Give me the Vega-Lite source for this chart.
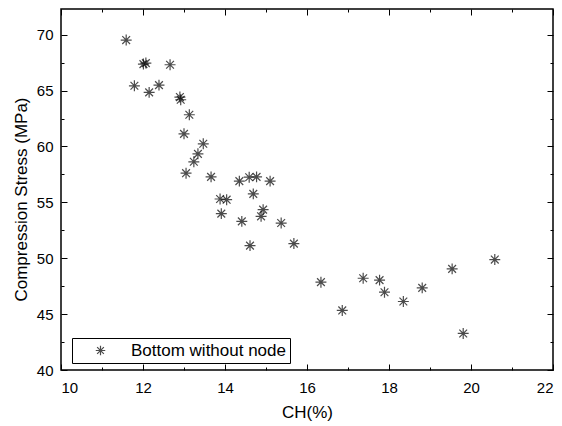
{
  "$schema": "https://vega.github.io/schema/vega-lite/v6.json",
  "width": 492,
  "height": 361,
  "autosize": "none",
  "padding": {"left": 61, "top": 9, "right": 9, "bottom": 56},
  "background": "white",
  "config": {
    "font": "Liberation Sans",
    "view": {"stroke": "black", "strokeWidth": 1.5},
    "axis": {"grid": false, "domain": false, "tickColor": "black", "tickWidth": 1, "labelColor": "black", "titleColor": "black", "labelFont": "Liberation Sans", "titleFont": "Liberation Sans", "labelFontSize": 15, "titleFontSize": 17, "titleFontWeight": "normal"},
    "legend": {"strokeColor": "black", "padding": 4, "fillColor": "white", "labelFontSize": 17, "labelFont": "Liberation Sans", "labelColor": "black", "symbolSize": 90, "symbolStrokeColor": "black", "symbolStrokeWidth": 1.2, "symbolFillColor": "transparent", "symbolOffset": 16, "labelOffset": 22, "cornerRadius": 0}
  },
  "data": {"values": [
    {"ch": 11.59, "stress": 69.52, "series": "Bottom without node"},
    {"ch": 12.01, "stress": 67.37, "series": "Bottom without node"},
    {"ch": 12.07, "stress": 67.46, "series": "Bottom without node"},
    {"ch": 12.66, "stress": 67.31, "series": "Bottom without node"},
    {"ch": 11.79, "stress": 65.43, "series": "Bottom without node"},
    {"ch": 12.15, "stress": 64.84, "series": "Bottom without node"},
    {"ch": 12.39, "stress": 65.49, "series": "Bottom without node"},
    {"ch": 12.90, "stress": 64.42, "series": "Bottom without node"},
    {"ch": 12.92, "stress": 64.18, "series": "Bottom without node"},
    {"ch": 13.13, "stress": 62.84, "series": "Bottom without node"},
    {"ch": 13.00, "stress": 61.13, "series": "Bottom without node"},
    {"ch": 13.47, "stress": 60.24, "series": "Bottom without node"},
    {"ch": 13.34, "stress": 59.34, "series": "Bottom without node"},
    {"ch": 13.24, "stress": 58.63, "series": "Bottom without node"},
    {"ch": 13.05, "stress": 57.61, "series": "Bottom without node"},
    {"ch": 13.66, "stress": 57.28, "series": "Bottom without node"},
    {"ch": 14.35, "stress": 56.90, "series": "Bottom without node"},
    {"ch": 14.59, "stress": 57.25, "series": "Bottom without node"},
    {"ch": 14.77, "stress": 57.28, "series": "Bottom without node"},
    {"ch": 15.10, "stress": 56.90, "series": "Bottom without node"},
    {"ch": 14.69, "stress": 55.76, "series": "Bottom without node"},
    {"ch": 13.88, "stress": 55.30, "series": "Bottom without node"},
    {"ch": 14.04, "stress": 55.24, "series": "Bottom without node"},
    {"ch": 13.91, "stress": 53.99, "series": "Bottom without node"},
    {"ch": 14.41, "stress": 53.30, "series": "Bottom without node"},
    {"ch": 14.93, "stress": 54.35, "series": "Bottom without node"},
    {"ch": 14.88, "stress": 53.75, "series": "Bottom without node"},
    {"ch": 14.61, "stress": 51.13, "series": "Bottom without node"},
    {"ch": 15.37, "stress": 53.15, "series": "Bottom without node"},
    {"ch": 15.68, "stress": 51.31, "series": "Bottom without node"},
    {"ch": 16.34, "stress": 47.86, "series": "Bottom without node"},
    {"ch": 16.86, "stress": 45.33, "series": "Bottom without node"},
    {"ch": 17.37, "stress": 48.21, "series": "Bottom without node"},
    {"ch": 17.77, "stress": 48.04, "series": "Bottom without node"},
    {"ch": 17.89, "stress": 46.96, "series": "Bottom without node"},
    {"ch": 18.35, "stress": 46.13, "series": "Bottom without node"},
    {"ch": 18.81, "stress": 47.35, "series": "Bottom without node"},
    {"ch": 19.54, "stress": 49.05, "series": "Bottom without node"},
    {"ch": 19.81, "stress": 43.27, "series": "Bottom without node"},
    {"ch": 20.58, "stress": 49.88, "series": "Bottom without node"}
  ]},
  "layer": [
    {
      "mark": {"type": "point", "filled": false, "color": "black", "strokeWidth": 1.2, "size": 120},
      "encoding": {
        "x": {"field": "ch", "type": "quantitative", "scale": {"domain": [10, 22], "nice": false, "zero": false},
          "axis": {"orient": "bottom", "values": [10, 12, 14, 16, 18, 20, 22], "tickSize": -6, "labelPadding": 16, "title": "CH(%)", "titleY": 47, "titleBaseline": "alphabetic"}},
        "y": {"field": "stress", "type": "quantitative", "scale": {"domain": [40, 72.3], "nice": false, "zero": false},
          "axis": {"orient": "left", "values": [40, 45, 50, 55, 60, 65, 70], "tickSize": -6, "labelPadding": 14, "title": "Compression Stress (MPa)", "titleX": -35, "titleY": 190, "titleAngle": -90, "titleAlign": "center", "titleBaseline": "alphabetic"}},
        "shape": {"field": "series", "type": "nominal",
          "scale": {"range": ["M0,-1L0,1M-1,0L1,0M-0.71,-0.71L0.71,0.71M-0.71,0.71L0.71,-0.71"]},
          "legend": {"orient": "none", "legendX": 11, "legendY": 329, "title": null}}
      }
    },
    {
      "mark": {"type": "point", "opacity": 0},
      "encoding": {
        "x": {"field": "ch", "type": "quantitative", "axis": {"orient": "bottom", "values": [11, 13, 15, 17, 19, 21], "tickSize": -3, "labels": false, "title": null}},
        "y": {"field": "stress", "type": "quantitative", "axis": {"orient": "left", "values": [42.5, 47.5, 52.5, 57.5, 62.5, 67.5, 72.5], "tickSize": -3, "labels": false, "title": null}}
      }
    },
    {
      "mark": {"type": "point", "opacity": 0},
      "encoding": {
        "x": {"field": "ch", "type": "quantitative", "axis": {"orient": "top", "values": [10, 12, 14, 16, 18, 20, 22], "tickSize": -6, "labels": false, "title": null}},
        "y": {"field": "stress", "type": "quantitative", "axis": {"orient": "right", "values": [40, 45, 50, 55, 60, 65, 70], "tickSize": -6, "labels": false, "title": null}}
      }
    },
    {
      "mark": {"type": "point", "opacity": 0},
      "encoding": {
        "x": {"field": "ch", "type": "quantitative", "axis": {"orient": "top", "values": [11, 13, 15, 17, 19, 21], "tickSize": -3, "labels": false, "title": null}},
        "y": {"field": "stress", "type": "quantitative", "axis": {"orient": "right", "values": [42.5, 47.5, 52.5, 57.5, 62.5, 67.5, 72.5], "tickSize": -3, "labels": false, "title": null}}
      }
    }
  ],
  "resolve": {"axis": {"x": "independent", "y": "independent"}}
}
